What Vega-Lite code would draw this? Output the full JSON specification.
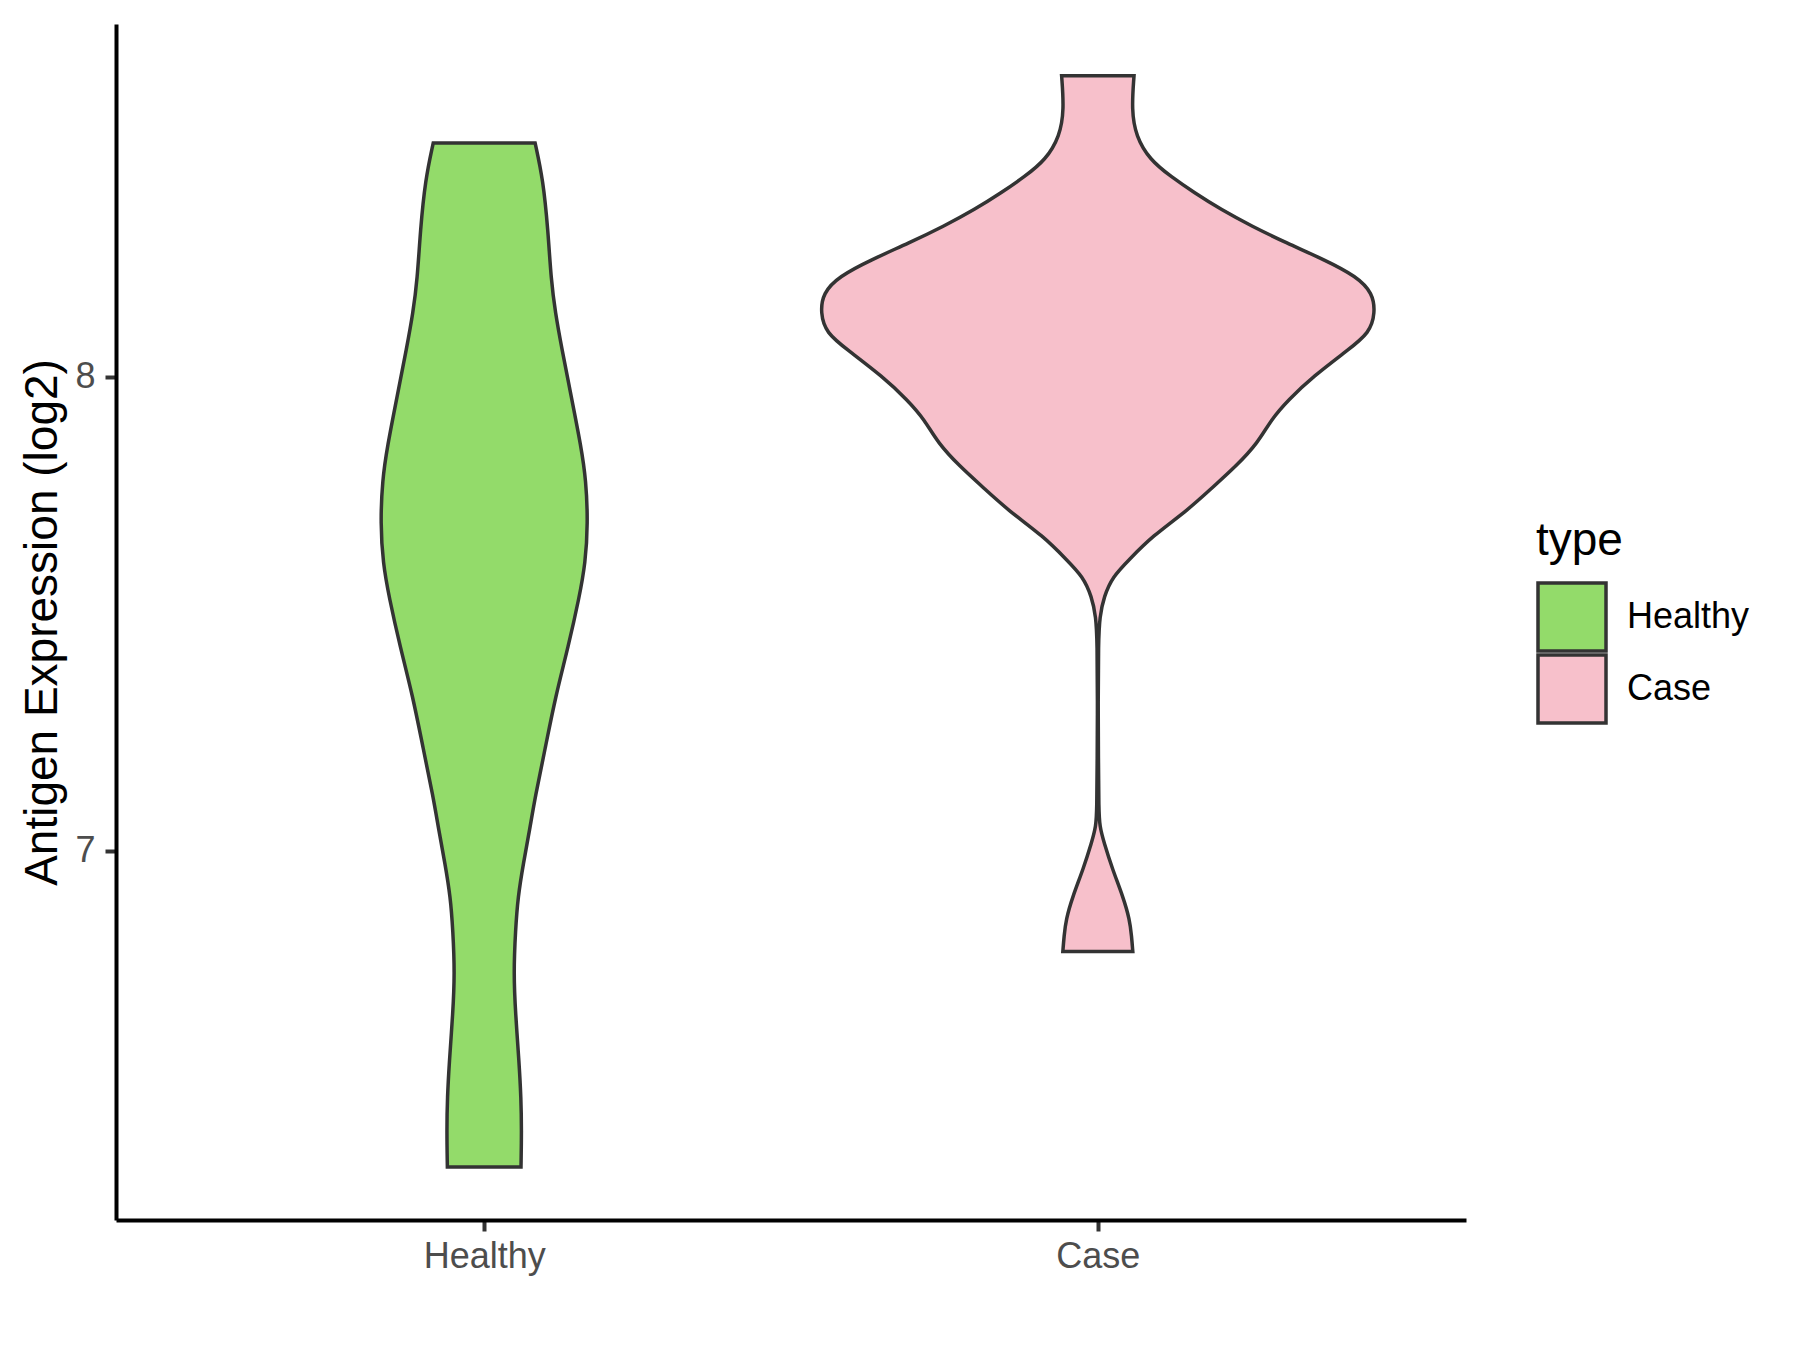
{
  "$schema": "https://vega.github.io/schema/vega-lite/v6.json",
  "width": 1350,
  "height": 1196,
  "autosize": {"type": "none"},
  "padding": {"left": 116, "top": 24, "right": 334, "bottom": 130},
  "background": "white",
  "config": {
    "view": {"stroke": null},
    "font": "Liberation Sans",
    "axis": {"grid": false, "labelFont": "Liberation Sans", "titleFont": "Liberation Sans"},
    "legend": {"labelFont": "Liberation Sans", "titleFont": "Liberation Sans"}
  },
  "data": {
    "values": [
      {"type": "Healthy", "expression": 8.494, "density": 0.083},
      {"type": "Healthy", "expression": 8.416, "density": 0.096},
      {"type": "Healthy", "expression": 8.310, "density": 0.104},
      {"type": "Healthy", "expression": 8.205, "density": 0.109},
      {"type": "Healthy", "expression": 8.135, "density": 0.116},
      {"type": "Healthy", "expression": 8.063, "density": 0.126},
      {"type": "Healthy", "expression": 7.958, "density": 0.142},
      {"type": "Healthy", "expression": 7.852, "density": 0.158},
      {"type": "Healthy", "expression": 7.782, "density": 0.166},
      {"type": "Healthy", "expression": 7.691, "density": 0.169},
      {"type": "Healthy", "expression": 7.607, "density": 0.165},
      {"type": "Healthy", "expression": 7.535, "density": 0.155},
      {"type": "Healthy", "expression": 7.430, "density": 0.137},
      {"type": "Healthy", "expression": 7.324, "density": 0.116},
      {"type": "Healthy", "expression": 7.219, "density": 0.100},
      {"type": "Healthy", "expression": 7.113, "density": 0.083},
      {"type": "Healthy", "expression": 7.043, "density": 0.074},
      {"type": "Healthy", "expression": 6.974, "density": 0.064},
      {"type": "Healthy", "expression": 6.902, "density": 0.055},
      {"type": "Healthy", "expression": 6.832, "density": 0.051},
      {"type": "Healthy", "expression": 6.741, "density": 0.048},
      {"type": "Healthy", "expression": 6.657, "density": 0.051},
      {"type": "Healthy", "expression": 6.551, "density": 0.057},
      {"type": "Healthy", "expression": 6.479, "density": 0.060},
      {"type": "Healthy", "expression": 6.410, "density": 0.061},
      {"type": "Healthy", "expression": 6.332, "density": 0.060},
      {"type": "Case", "expression": 8.636, "density": 0.059},
      {"type": "Case", "expression": 8.564, "density": 0.055},
      {"type": "Case", "expression": 8.508, "density": 0.062},
      {"type": "Case", "expression": 8.458, "density": 0.085},
      {"type": "Case", "expression": 8.423, "density": 0.119},
      {"type": "Case", "expression": 8.389, "density": 0.157},
      {"type": "Case", "expression": 8.353, "density": 0.201},
      {"type": "Case", "expression": 8.318, "density": 0.251},
      {"type": "Case", "expression": 8.283, "density": 0.307},
      {"type": "Case", "expression": 8.247, "density": 0.370},
      {"type": "Case", "expression": 8.212, "density": 0.422},
      {"type": "Case", "expression": 8.177, "density": 0.448},
      {"type": "Case", "expression": 8.135, "density": 0.452},
      {"type": "Case", "expression": 8.093, "density": 0.443},
      {"type": "Case", "expression": 8.057, "density": 0.408},
      {"type": "Case", "expression": 8.001, "density": 0.351},
      {"type": "Case", "expression": 7.951, "density": 0.310},
      {"type": "Case", "expression": 7.909, "density": 0.282},
      {"type": "Case", "expression": 7.861, "density": 0.261},
      {"type": "Case", "expression": 7.811, "density": 0.225},
      {"type": "Case", "expression": 7.768, "density": 0.188},
      {"type": "Case", "expression": 7.719, "density": 0.147},
      {"type": "Case", "expression": 7.663, "density": 0.088},
      {"type": "Case", "expression": 7.614, "density": 0.051},
      {"type": "Case", "expression": 7.578, "density": 0.024},
      {"type": "Case", "expression": 7.536, "density": 0.010},
      {"type": "Case", "expression": 7.494, "density": 0.003},
      {"type": "Case", "expression": 7.438, "density": 0.001},
      {"type": "Case", "expression": 7.318, "density": 0.0005},
      {"type": "Case", "expression": 7.191, "density": 0.001},
      {"type": "Case", "expression": 7.086, "density": 0.0016},
      {"type": "Case", "expression": 7.051, "density": 0.003},
      {"type": "Case", "expression": 7.017, "density": 0.010},
      {"type": "Case", "expression": 6.960, "density": 0.024},
      {"type": "Case", "expression": 6.903, "density": 0.041},
      {"type": "Case", "expression": 6.854, "density": 0.052},
      {"type": "Case", "expression": 6.819, "density": 0.055},
      {"type": "Case", "expression": 6.787, "density": 0.057}
    ]
  },
  "transform": [
    {"calculate": "datum.type === 'Healthy' ? 1 : 2", "as": "pos"},
    {"calculate": "datum.pos - datum.density", "as": "lo"},
    {"calculate": "datum.pos + datum.density", "as": "hi"}
  ],
  "mark": {
    "type": "area",
    "orient": "horizontal",
    "interpolate": "basis",
    "stroke": "#333333",
    "strokeWidth": 3.5,
    "fillOpacity": 1,
    "strokeJoin": "miter"
  },
  "encoding": {
    "y": {
      "field": "expression",
      "type": "quantitative",
      "scale": {"domain": [6.22, 8.745], "nice": false, "zero": false},
      "axis": {
        "values": [7, 8],
        "title": "Antigen Expression (log2)",
        "titleFontSize": 46,
        "titleFontWeight": "normal",
        "titleColor": "#000000",
        "titleBaseline": "alphabetic",
        "titleX": -60,
        "labelFontSize": 36,
        "labelColor": "#4D4D4D",
        "labelPadding": 10,
        "tickSize": 11,
        "tickWidth": 4,
        "tickColor": "#333333",
        "domainColor": "#000000",
        "domainWidth": 4
      }
    },
    "x": {
      "field": "lo",
      "type": "quantitative",
      "scale": {"domain": [0.4, 2.6], "nice": false, "zero": false},
      "axis": {
        "values": [1, 2],
        "labelExpr": "datum.value === 1 ? 'Healthy' : 'Case'",
        "title": null,
        "labelFontSize": 36,
        "labelColor": "#4D4D4D",
        "labelPadding": 8,
        "tickSize": 11,
        "tickWidth": 4,
        "tickColor": "#333333",
        "domainColor": "#000000",
        "domainWidth": 4
      }
    },
    "x2": {"field": "hi"},
    "detail": {"field": "type"},
    "color": {
      "field": "type",
      "type": "nominal",
      "scale": {"domain": ["Healthy", "Case"], "range": ["#93DB6A", "#F7C0CB"]},
      "legend": {
        "title": "type",
        "orient": "none",
        "legendX": 1420,
        "legendY": 495,
        "titleFontSize": 46,
        "titleFontWeight": "normal",
        "titleColor": "#000000",
        "titlePadding": 16,
        "labelFontSize": 36,
        "labelColor": "#000000",
        "labelOffset": 19,
        "symbolType": "square",
        "symbolSize": 4624,
        "symbolStrokeColor": "#333333",
        "symbolStrokeWidth": 3.5,
        "symbolOpacity": 1,
        "symbolFillOpacity": 1,
        "clipHeight": 72,
        "rowPadding": 0
      }
    }
  }
}
